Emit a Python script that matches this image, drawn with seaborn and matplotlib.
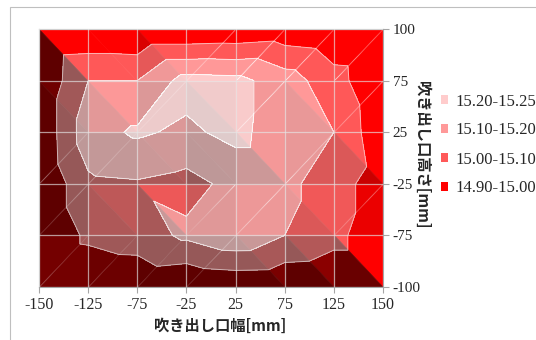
import numpy as np
import matplotlib
matplotlib.use("Agg")
import matplotlib.pyplot as plt
import matplotlib.tri as mtri
from matplotlib.colors import LinearSegmentedColormap
from matplotlib.patches import Patch, Rectangle
import seaborn as sns

# ---------------- data ----------------
x_labels = ['-150', '-125', '-75', '-25', '25', '75', '125', '150']
y_labels = ['-100', '-75', '-25', '25', '75', '100']
# temperature values, one list per height row (bottom -100 ... top 100)
temp_y_m100 = [14.90, 14.915, 14.92, 14.90, 14.915, 14.91, 14.90, 14.90]
temp_y_m75 = [14.90, 15.02, 15.05, 15.12, 15.18, 15.10, 15.04, 14.90]
temp_y_m25 = [14.90, 15.08, 15.09, 15.066, 15.13, 15.13, 15.04, 14.95]
temp_y_25 = [14.91, 15.16, 15.215, 15.18, 15.23, 15.14, 15.10, 14.92]
temp_y_75 = [14.91, 15.10, 15.10, 15.24, 15.23, 15.15, 15.04, 14.91]
temp_y_100 = [14.90, 14.91, 14.90, 14.90, 14.91, 14.93, 14.91, 14.90]
band_edges = [14.90, 15.00, 15.10, 15.20, 15.25]
band_labels = ['14.90-15.00', '15.00-15.10', '15.10-15.20', '15.20-15.25']

# ---------------- style ----------------
sns.set_style("white")
plt.rcParams['font.family'] = ['Liberation Serif', 'DejaVu Serif']
band_white = [0.0, 0.35, 0.6, 0.8]   # white wash over red for each band

Z = np.array([temp_y_m100, temp_y_m75, temp_y_m25, temp_y_25, temp_y_75, temp_y_100])
ny, nx = Z.shape
X, Y = np.meshgrid(np.arange(nx), np.arange(ny))
xs, ys, zf = X.ravel().astype(float), Y.ravel().astype(float), Z.ravel()

tris = []
for j in range(ny - 1):
    for i in range(nx - 1):
        bl = j * nx + i
        br = bl + 1
        tl = bl + nx
        tr = tl + 1
        if zf[tl] + zf[br] >= zf[bl] + zf[tr]:
            tris += [[tl, tr, br], [tl, bl, br]]
        else:
            tris += [[bl, br, tr], [bl, tr, tl]]
tris = np.array(tris)
tri = mtri.Triangulation(xs, ys, tris)

shade = []
for t in tris:
    A = np.c_[xs[t], ys[t], np.ones(3)]
    gx, gy, _ = np.linalg.solve(A, zf[t])
    shade.append(np.clip(0.72 - 2.2 * gx - 2.2 * gy, 0.37, 1.0))
shade = np.array(shade)

fig = plt.figure(figsize=(5.36, 3.40), dpi=100)
ax = fig.add_axes([39 / 536, 53 / 340, 344 / 536, 258 / 340])

red_shade = LinearSegmentedColormap.from_list('redshade', ['#000000', '#FF0000'])
ax.tripcolor(tri, facecolors=shade, cmap=red_shade, vmin=0, vmax=1,
             edgecolors='face', linewidth=0.4, zorder=1)
ax.tricontourf(tri, zf, levels=band_edges,
               colors=[(1, 1, 1, w) for w in band_white], zorder=1.2)
ax.tricontour(tri, zf, levels=band_edges[1:-1], colors='white',
              linewidths=0.7, alpha=0.55, zorder=1.4)

ax.set_xlim(0, nx - 1)
ax.set_ylim(0, ny - 1)
ax.set_xticks(range(nx))
ax.set_xticklabels(x_labels)
ax.set_yticks(range(ny))
ax.set_yticklabels(y_labels)
ax.yaxis.tick_right()
ax.set_axisbelow(False)
ax.grid(True, color='#E6E6E6', linewidth=0.9, alpha=0.65)
for s in ax.spines.values():
    s.set_color('#A6A6A6')
    s.set_linewidth(0.8)
ax.tick_params(axis='x', direction='out', length=4, color='#A6A6A6',
               labelsize=11.5, pad=3, bottom=True)
ax.tick_params(axis='y', direction='out', length=4, color='#A6A6A6',
               labelsize=11, pad=3, right=True, left=False)

cjk = ['Noto Sans CJK JP', 'DejaVu Sans']
fig.text(220 / 536, 1 - 326 / 340, '吹き出し口幅[mm]', family=cjk,
         fontweight='bold', fontsize=11, ha='center', va='center')
fig.text(422 / 536, 1 - 155 / 340, '吹き出し口高さ[mm]', family=cjk,
         fontweight='bold', fontsize=11, ha='center', va='center', rotation=-90)

handles = [Patch(facecolor=(1, w, w), edgecolor='none') for w in band_white]
order = [3, 2, 1, 0]
fig.legend([handles[k] for k in order], [band_labels[k] for k in order],
           loc='center left', bbox_to_anchor=(441 / 536, 1 - 145 / 340),
           frameon=False, fontsize=12, handlelength=0.4, handleheight=0.4,
           handletextpad=0.45, labelspacing=0.78, borderpad=0, borderaxespad=0)

fig.patches.append(Rectangle((10 / 536, -0.1), 1.2, 1.1 - 7 / 340,
                             transform=fig.transFigure, fill=False,
                             edgecolor='#BFBFBF', linewidth=0.8))
fig.savefig('out.png', dpi=100)
